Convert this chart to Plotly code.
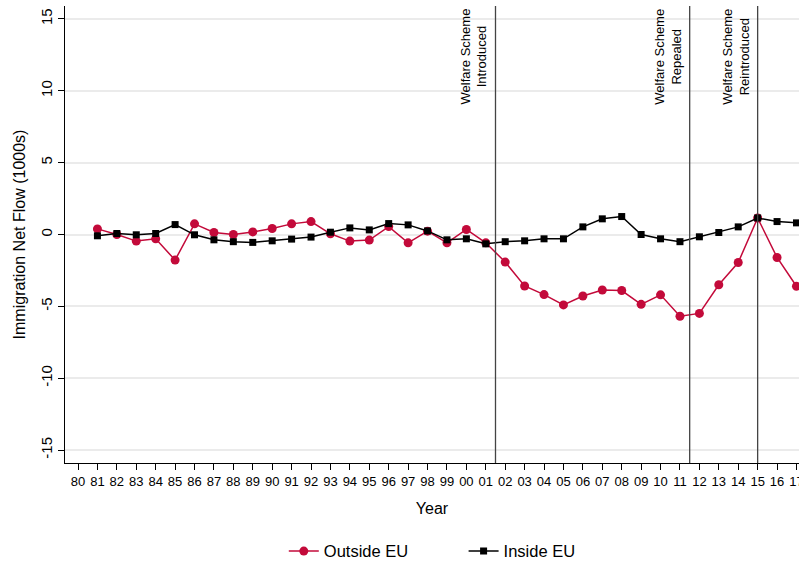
import plotly.graph_objects as go

years = list(range(1981, 2018))
outside_eu = [0.39, 0.0, -0.46, -0.3, -1.78, 0.74, 0.14, 0.0, 0.18, 0.42, 0.74, 0.9, 0.05,
              -0.46, -0.39, 0.55, -0.58, 0.23, -0.58, 0.35, -0.58, -1.92, -3.58, -4.18,
              -4.9, -4.28, -3.86, -3.9, -4.86, -4.2, -5.69, -5.49, -3.5, -1.95, 1.15, -1.6, -3.6]
inside_eu = [-0.09, 0.07, -0.02, 0.07, 0.69, -0.02, -0.37, -0.5, -0.55, -0.44, -0.32, -0.18, 0.16,
             0.46, 0.32, 0.76, 0.67, 0.25, -0.37, -0.3, -0.65, -0.5, -0.44, -0.3,
             -0.3, 0.53, 1.09, 1.25, 0.0, -0.3, -0.5, -0.16, 0.14, 0.53, 1.15, 0.9, 0.81]
tick_years = list(range(1980, 2018))
tick_labels = [f"{y % 100:02d}" for y in tick_years]
y_ticks = [-15, -10, -5, 0, 5, 10, 15]
y_tick_labels = ["-15", "-10", "-5", "0", "5", "10", "15"]
events = [2001.5, 2011.5, 2015]
event_labels = ["Welfare Scheme<br>Introduced", "Welfare Scheme<br>Repealed", "Welfare Scheme<br>Reintroduced"]

RED = "#C30A3A"
FONT = "Liberation Sans, Arial, sans-serif"
GAP = "\u00a0" * 11

fig = go.Figure()
fig.add_trace(go.Scatter(x=years, y=outside_eu, name="Outside EU" + GAP, mode="lines+markers",
                         line=dict(color=RED, width=1.5),
                         marker=dict(symbol="circle", size=9, color=RED)))
fig.add_trace(go.Scatter(x=years, y=inside_eu, name="Inside EU", mode="lines+markers",
                         line=dict(color="black", width=1.5),
                         marker=dict(symbol="square", size=7, color="black")))

for ev, lab in zip(events, event_labels):
    fig.add_shape(type="line", x0=ev, x1=ev, xref="x", yref="paper", y0=0, y1=1,
                  line=dict(color="#444444", width=1.3), layer="above")
    fig.add_annotation(x=ev, y=1, xref="x", yref="paper", text=lab, showarrow=False,
                       textangle=-90, xanchor="right", yanchor="top", xshift=-4, yshift=-1,
                       align="center", font=dict(family=FONT, size=13, color="black"))

fig.update_layout(
    width=799, height=561,
    margin=dict(l=65, r=0, t=6, b=98, autoexpand=False),
    paper_bgcolor="white", plot_bgcolor="white",
    font=dict(family=FONT, color="black"),
    showlegend=True,
    legend=dict(orientation="h", x=0.5004, xanchor="center", y=-0.155, yanchor="top",
                font=dict(size=16.5, family=FONT), traceorder="normal"),
    hovermode=False,
)
fig.update_xaxes(
    range=[1979.33, 2017.13], automargin=False,
    tickvals=tick_years, ticktext=tick_labels, tickangle=0,
    ticks="outside", ticklen=6, tickcolor="black", tickwidth=1,
    tickfont=dict(size=13, family=FONT), ticklabeloverflow="allow",
    showline=True, linecolor="black", linewidth=1.2, mirror=False,
    showgrid=False, zeroline=False,
    title=dict(text="Year", font=dict(size=16, family=FONT), standoff=15),
)
fig.update_yaxes(
    range=[-15.9, 15.9], automargin=False,
    tickvals=y_ticks, ticktext=y_tick_labels, tickangle=-90,
    ticks="outside", ticklen=6, tickcolor="black", tickwidth=1,
    tickfont=dict(size=15, family=FONT),
    showline=True, linecolor="black", linewidth=1.2,
    showgrid=True, gridcolor="#EBEBEB", gridwidth=1.5, zeroline=False,
    title=dict(text="Immigration Net Flow (1000s)", font=dict(size=16, family=FONT), standoff=8),
)

fig.write_html("out.html", config={"displayModeBar": False},
               post_script="document.body.style.margin='0';document.body.style.overflow='hidden';")
